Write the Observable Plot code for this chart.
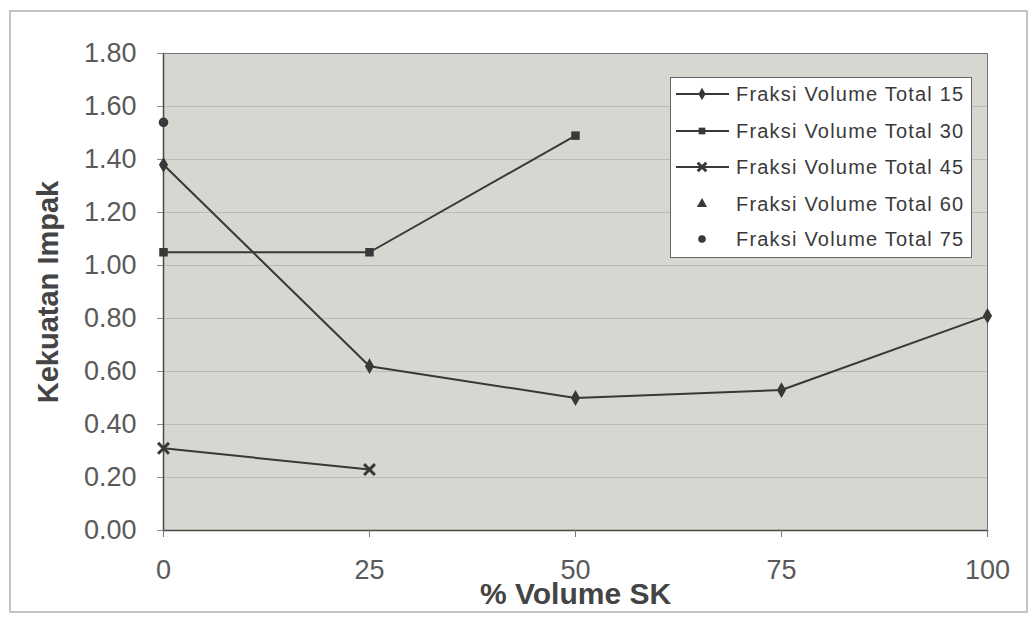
<!DOCTYPE html>
<html><head><meta charset="utf-8">
<script src="https://cdn.jsdelivr.net/npm/d3@7"></script>
<script src="https://cdn.jsdelivr.net/npm/@observablehq/plot@0.6"></script>
<style>
body{margin:0;background:#fff;font-family:"Liberation Sans",Arial,sans-serif;}
#wrap{position:relative;width:1035px;height:618px;overflow:hidden;}
#border{position:absolute;left:9px;top:10px;width:1019px;height:603px;border:2px solid #c4c4c4;box-sizing:border-box;pointer-events:none;}
#legend{position:absolute;left:670px;top:77px;width:302px;height:181px;background:#fff;border:1.5px solid #666;box-sizing:border-box;}
.row{position:absolute;left:0;height:24px;display:flex;align-items:center;}
.row span{font-size:20px;letter-spacing:1.2px;color:#3a3a3a;margin-left:5px;white-space:nowrap;}
</style></head>
<body><div id="wrap"><div id="chart"></div><div id="legend"></div><div id="border"></div></div>
<script>
const xVals = [0, 25, 50, 75, 100];
const s15 = [1.38, 0.62, 0.50, 0.53, 0.81];
const s30 = [1.05, 1.05, 1.49];
const s45 = [0.31, 0.23];
const s60 = [];
const s75 = [1.54];
const seriesNames = ["Fraksi Volume Total 15","Fraksi Volume Total 30","Fraksi Volume Total 45","Fraksi Volume Total 60","Fraksi Volume Total 75"];
const seriesValues = [s15, s30, s45, s60, s75];
const seriesSymbols = ["diamond","square","times","triangle","circle"];
const yTicks = [0, 0.2, 0.4, 0.6, 0.8, 1.0, 1.2, 1.4, 1.6, 1.8];

const rows = [];
seriesValues.forEach((vals, i) => vals.forEach((v, j) => rows.push({x: xVals[j], y: v, s: seriesNames[i], sym: seriesSymbols[i]})));

const ink = "#383838";
const chart = Plot.plot({
  width: 1035, height: 618,
  marginLeft: 163, marginRight: 48, marginTop: 53, marginBottom: 88,
  style: {fontFamily: "'Liberation Sans', Arial, sans-serif", background: "transparent"},
  x: {domain: [0, 100]},
  y: {domain: [0, 1.8]},
  symbol: {domain: seriesSymbols, range: seriesSymbols},
  marks: [
    Plot.frame({fill: "#d6d7d0", stroke: "none"}),
    Plot.gridY(yTicks, {stroke: "#a9aaa3", strokeOpacity: 0.6}),
    Plot.frame({stroke: "#4a4a44", strokeWidth: 1.5, anchor: "left"}),
    Plot.frame({stroke: "#4a4a44", strokeWidth: 1.5, anchor: "bottom"}),
    Plot.frame({stroke: "#777", strokeWidth: 1, anchor: "right"}),
    Plot.frame({stroke: "#777", strokeWidth: 1, anchor: "top"}),
    Plot.axisY({ticks: yTicks, tickFormat: d => d.toFixed(2), fontSize: 27, tickSize: 6, tickPadding: 21, label: null, color: "#5a5a5a", stroke: "#888"}),
    Plot.axisX({ticks: xVals, tickFormat: d => String(d), fontSize: 27, tickSize: 7, tickPadding: 22, label: null, color: "#5a5a5a", stroke: "#777"}),
    Plot.line(rows, {x: "x", y: "y", z: "s", stroke: ink, strokeWidth: 2}),
    Plot.dot(rows.filter(d => d.sym !== "times"), {x: "x", y: "y", symbol: "sym", fill: ink, stroke: "none", r: 4.8}),
    Plot.dot(rows.filter(d => d.sym === "times"), {x: "x", y: "y", symbol: "sym", stroke: ink, strokeWidth: 3, r: 5}),
    Plot.text(["Kekuatan Impak"], {frameAnchor: "left", textAnchor: "middle", lineAnchor: "middle", dx: -115, rotate: -90, fontSize: 29, fontWeight: "bold", fill: "#444"}),
    Plot.text(["% Volume SK"], {frameAnchor: "bottom", textAnchor: "middle", lineAnchor: "middle", dx: 0, dy: 64, fontSize: 30, fontWeight: "bold", fill: "#444"})
  ]
});
document.getElementById("chart").appendChild(chart);

// legend
const legend = document.getElementById("legend");
const legendY = [4, 41, 77, 114, 149];
seriesNames.forEach((name, i) => {
  const row = document.createElement("div");
  row.className = "row";
  row.style.top = legendY[i] + "px";
  const hasLine = seriesValues[i].length > 1;
  const sym = seriesSymbols[i];
  const sw = d3.create("svg").attr("width", 60).attr("height", 24);
  if (hasLine) sw.append("line").attr("x1", 5).attr("x2", 58).attr("y1", 12).attr("y2", 12).attr("stroke", ink).attr("stroke-width", 2);
  const symType = {diamond: d3.symbolDiamond, square: d3.symbolSquare, times: d3.symbolX, triangle: d3.symbolTriangle, circle: d3.symbolCircle}[sym];
  const p = sw.append("path").attr("transform", "translate(31,12)").attr("d", d3.symbol(symType, sym === "times" ? 50 : 45)());
  if (sym === "times") p.attr("fill", "none").attr("stroke", ink).attr("stroke-width", 3);
  else p.attr("fill", ink);
  row.appendChild(sw.node());
  const t = document.createElement("span");
  t.textContent = name;
  row.appendChild(t);
  legend.appendChild(row);
});
</script></body></html>
